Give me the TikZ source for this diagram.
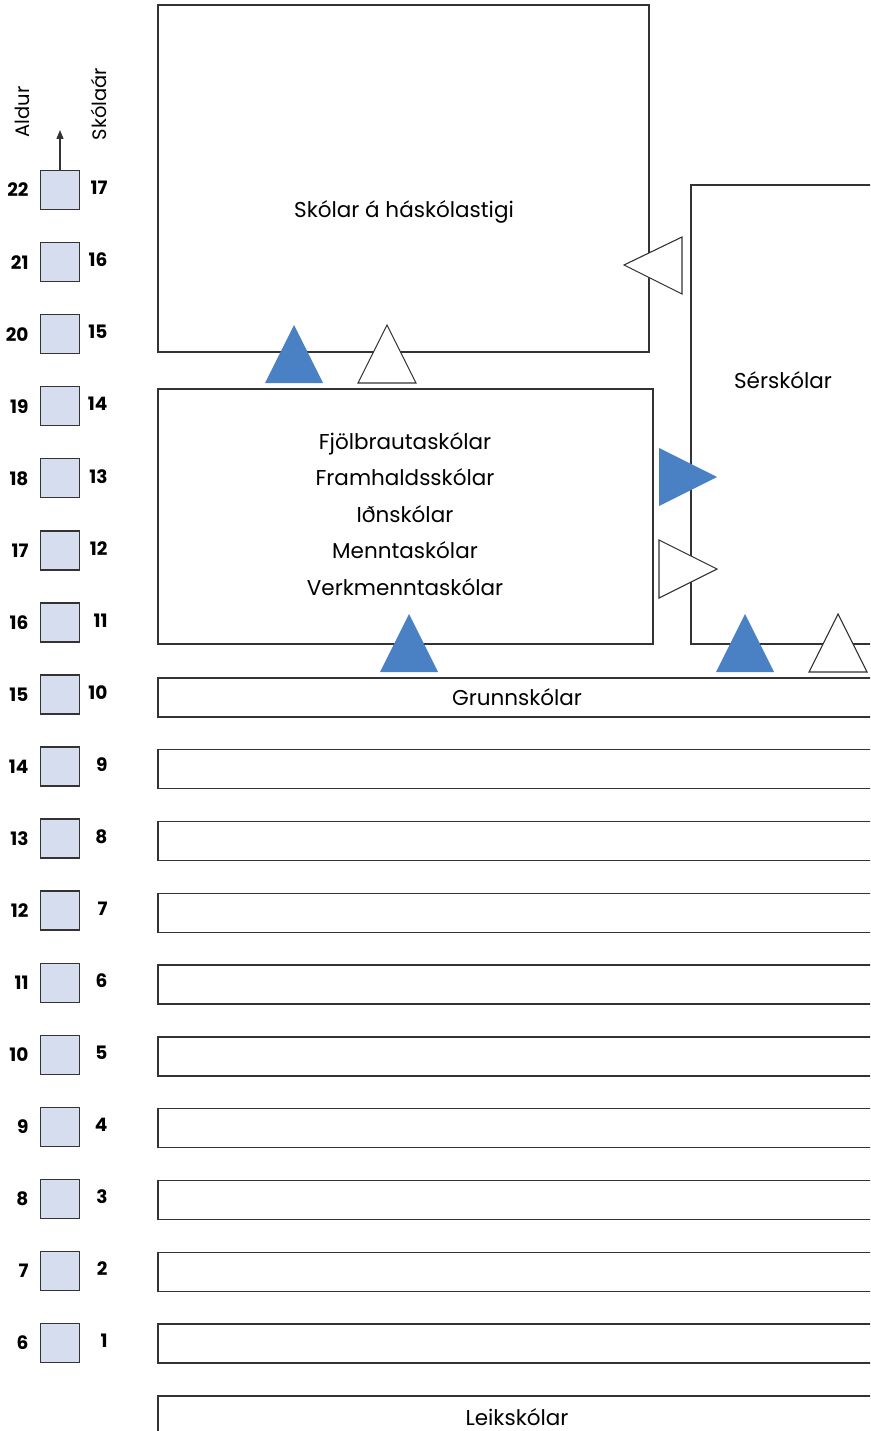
\documentclass[tikz,border=0pt]{standalone}
\usepackage{fontspec}
\setmainfont{Poppins}
\usetikzlibrary{arrows.meta,calc}

\definecolor{flowblue}{HTML}{4A80C4}
\definecolor{yearfill}{HTML}{D5DDEF}
\definecolor{boxline}{HTML}{333333}

\begin{document}
\begin{tikzpicture}[x=1pt,y=-1pt,
    box/.style={draw=boxline,line width=1.4pt},
    schoolname/.style={font=\fontsize{21.5}{36.5}\selectfont,align=center},
    yearbox/.style={draw=boxline,line width=1.4pt,fill=yearfill,minimum size=39pt,inner sep=0pt},
    agenum/.style={font=\bfseries\fontsize{18.5}{20}\selectfont,anchor=east},
    gradenum/.style={font=\bfseries\fontsize{18.5}{20}\selectfont,anchor=east},
    axislabel/.style={font=\fontsize{19.5}{21}\selectfont,rotate=90},
    blueflow/.style={fill=flowblue},
    whiteflow/.style={draw=boxline,fill=white,line width=1.1pt,line join=miter}]

  \useasboundingbox (0,0) rectangle (870,1431);
  \clip (0,0) rectangle (870,1431);

  % age and school year scale
  \foreach \i in {1,...,17}{
    \pgfmathsetmacro{\ypos}{1343-(\i-1)*72.06}
    \pgfmathtruncatemacro{\age}{\i+5}
    \node[yearbox] (sq\i) at (60,\ypos) {};
    \node[agenum] (age\i) at (32,\ypos) {\age};
    \node[gradenum] (grade\i) at (111,\ypos-2) {\i};
  }
  \coordinate (up) at (60,130);
  \draw[boxline,line width=1.4pt,-{Triangle[length=9pt,width=7pt]}] (sq17.north) -- (up);
  \node[axislabel] (aldur) at (22,112) {Aldur};
  \node[axislabel] (skolaar) at (99,104) {Skólaár};

  % boxes
  \draw[box] (158,5) rectangle (649,352);
  \node[schoolname] (haskoli) at (404,212) {Skólar á háskólastigi};

  \draw[box] (880,185) -- (691,185) -- (691,644) -- (880,644);
  \node[schoolname] (serskoli) at (783,380) {Sérskólar};

  \draw[box] (158,389) rectangle (653,644);
  \node[schoolname] (framhald) at (405,514)
    {Fjölbrautaskólar\\Framhaldsskólar\\Iðnskólar\\Menntaskólar\\Verkmenntaskólar};

  \foreach \i in {1,...,10}{
    \pgfmathsetmacro{\rowtop}{1324-(\i-1)*71.8}
    \draw[box] (880,\rowtop) -- (158,\rowtop) -- (158,\rowtop+39) -- (880,\rowtop+39);
  }
  \node[schoolname] (grunnskoli) at (517,697) {Grunnskólar};

  \draw[box] (880,1396) -- (158,1396) -- (158,1440);
  \node[schoolname] (leikskoli) at (517,1417) {Leikskólar};

  % transitions
  \fill[blueflow] (294,325) -- (323,383) -- (265,383) -- cycle;
  \draw[whiteflow] (387,325) -- (416,383) -- (358,383) -- cycle;
  \draw[whiteflow] (624,265) -- (682,237) -- (682,294) -- cycle;
  \fill[blueflow] (717,477) -- (659,448) -- (659,506) -- cycle;
  \draw[whiteflow] (717,569) -- (659,540) -- (659,598) -- cycle;
  \fill[blueflow] (409,614) -- (438,672) -- (380,672) -- cycle;
  \fill[blueflow] (745,614) -- (774,672) -- (716,672) -- cycle;
  \draw[whiteflow] (838,614) -- (867,672) -- (809,672) -- cycle;

\end{tikzpicture}
\end{document}
